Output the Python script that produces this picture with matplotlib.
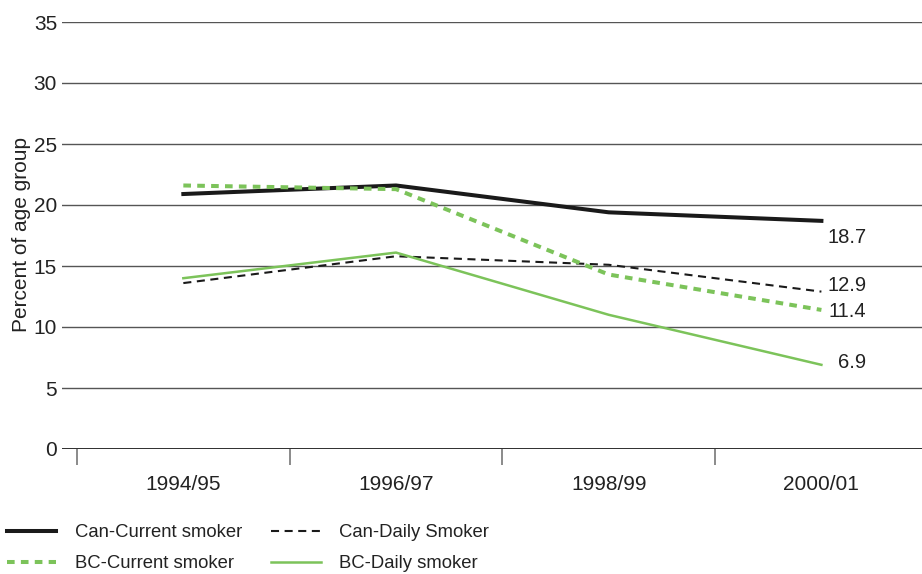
import matplotlib.pyplot as plt

plt.rcParams['font.family'] = ['Liberation Sans', 'DejaVu Sans']
plt.rcParams['lines.scale_dashes'] = False

years = ['1994/95', '1996/97', '1998/99', '2000/01']
can_current = [20.9, 21.6, 19.4, 18.7]
can_daily = [13.6, 15.8, 15.1, 12.9]
bc_current = [21.6, 21.3, 14.3, 11.4]
bc_daily = [14.0, 16.1, 11.0, 6.9]

green = '#7cc35a'

fig = plt.figure(figsize=(9.22, 5.74), dpi=100)
ax = fig.add_axes([62/922, 1-449/574, 860/922, 427/574])

x = range(len(years))
l1, = ax.plot(x, can_current, color='#1a1a1a', lw=2.9, label='Can-Current smoker', zorder=3)
l2, = ax.plot(x, can_daily, color='#1a1a1a', lw=1.5, dashes=(5.8, 4.0), label='Can-Daily Smoker', zorder=3)
l3, = ax.plot(x, bc_current, color=green, lw=2.9, dashes=(5.5, 4.5), label='BC-Current smoker', zorder=4)
l4, = ax.plot(x, bc_daily, color=green, lw=1.8, label='BC-Daily smoker', zorder=4)

# end labels, right aligned (y shift in px, up is positive)
shift = {18.7: -17, 12.9: 6, 11.4: -2, 6.9: 2}
for series in [can_current, can_daily, bc_current, bc_daily]:
    v = series[-1]
    ax.annotate(f'{v}', xy=(3, v), xytext=(45*0.72, shift[v]*0.72), textcoords='offset points',
                ha='right', va='center', fontsize=14.5, color='#222')

ax.set_ylim(0, 35)
ax.set_xlim(-0.5705, 3.473)
ax.set_yticks(range(0, 36, 5))
ax.grid(axis='y', color='#555555', lw=1)
ax.axhline(0, color='#222222', lw=1.3, zorder=2)
for s in ax.spines.values():
    s.set_visible(False)

ax.set_xticks(list(x))
ax.set_xticklabels(years)
ax.set_xticks([-0.5, 0.5, 1.5, 2.5], minor=True)
ax.tick_params(axis='x', which='major', length=0, pad=18.5, labelsize=15, labelcolor='#222')
ax.tick_params(axis='x', which='minor', length=11.5, width=1.2, color='#777777', direction='out')
ax.tick_params(axis='y', length=0, pad=3.6, labelsize=15, labelcolor='#222')

ax.set_ylabel('Percent of age group', fontsize=15, color='#222')
ax.yaxis.set_label_coords(-0.036, 0.502)

fig.legend(handles=[l1, l3, l2, l4], ncol=2, loc='upper left', bbox_to_anchor=(7/922, 1-524/574),
           frameon=False, fontsize=13.3, handlelength=2.66, handletextpad=1.0,
           columnspacing=1.6, labelspacing=0.78, borderpad=0, borderaxespad=0,
           labelcolor='#222')

fig.savefig('out.png', dpi=100)
